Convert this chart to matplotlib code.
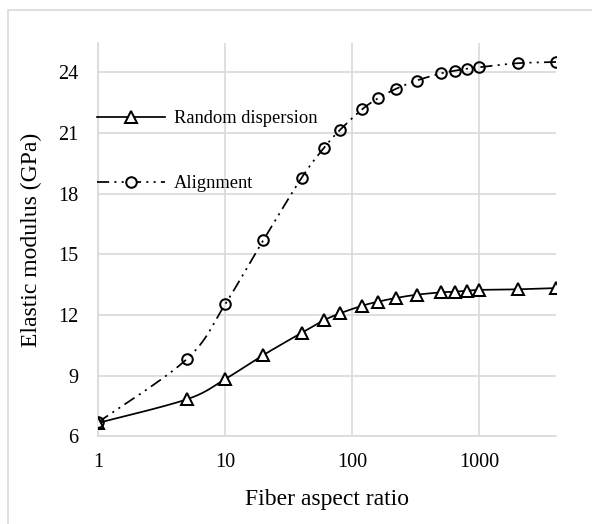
import matplotlib.pyplot as plt
from matplotlib.lines import Line2D
import numpy as np

plt.rcParams['font.family'] = ['Liberation Serif', 'DejaVu Serif']

aspect_ratio = [1, 5, 10, 20, 40, 60, 80, 120, 160, 220, 320, 500, 640, 800, 1000, 2000, 4000]
random_dispersion = [6.66, 7.83, 8.83, 10.02, 11.12, 11.74, 12.08, 12.46, 12.66, 12.84, 13.0,
                     13.12, 13.15, 13.2, 13.24, 13.27, 13.33]
alignment = [6.69, 9.82, 12.53, 15.71, 18.79, 20.27, 21.15, 22.18, 22.72, 23.18, 23.59,
             23.95, 24.08, 24.18, 24.25, 24.45, 24.51]

yticks = [6, 9, 12, 15, 18, 21, 24]
xticks = [1, 10, 100, 1000]
grid_gray = '#d9d9d9'

fig = plt.figure(figsize=(5.92, 5.24), dpi=100)
ax = fig.add_axes([98 / 592, 1 - 436.3 / 524, 458 / 592, (436.3 - 43) / 524])
ax.set_xscale('log')
ax.set_xlim(1, 4000)
ax.set_ylim(6, 25.45)


def smooth(xs, ys, n=24):
    # Bezier smoothing done in display space so curves look the same on the log axis
    pts = ax.transData.transform(np.column_stack([xs, ys]))
    out = [pts[0]]
    for i in range(len(pts) - 1):
        p0 = pts[max(i - 1, 0)]
        p1 = pts[i]
        p2 = pts[i + 1]
        p3 = pts[min(i + 2, len(pts) - 1)]
        c1 = p1 + (p2 - p0) / 6
        c2 = p2 - (p3 - p1) / 6
        t = np.linspace(0, 1, n)[1:, None]
        seg = ((1 - t) ** 3) * p1 + 3 * ((1 - t) ** 2) * t * c1 + 3 * (1 - t) * t ** 2 * c2 + t ** 3 * p2
        out.extend(seg)
    out = ax.transData.inverted().transform(np.array(out))
    return out[:, 0], out[:, 1]


dash_dot_dot = (0, (7, 3, 1.2, 3, 1.2, 3))
line_w = 1.25
mark_w = 1.45

sx, sy = smooth(aspect_ratio, random_dispersion)
ax.plot(sx, sy, color='black', lw=line_w, zorder=3)
ax.plot(aspect_ratio, random_dispersion, ls='none', marker='^', ms=8,
        mfc='white', mec='black', mew=mark_w, zorder=4)

sx, sy = smooth(aspect_ratio, alignment)
ax.plot(sx, sy, color='black', lw=line_w, ls=dash_dot_dot, zorder=3)
ax.plot(aspect_ratio, alignment, ls='none', marker='o', ms=7.6,
        mfc='none', mec='black', mew=mark_w, zorder=4)

ax.set_xticks(xticks)
ax.set_xticklabels([str(v) for v in xticks])
ax.xaxis.set_minor_locator(plt.NullLocator())
ax.set_yticks(yticks)
ax.tick_params(length=0, labelsize=14.6)
ax.tick_params(axis='y', pad=14)
ax.tick_params(axis='x', pad=12)
ax.grid(True, color=grid_gray, lw=1.2)
for side in ['top', 'right']:
    ax.spines[side].set_visible(False)
for side in ['left', 'bottom']:
    ax.spines[side].set_color(grid_gray)
    ax.spines[side].set_linewidth(1.2)

ax.set_xlabel('Fiber aspect ratio', fontsize=17, labelpad=12)
ax.set_ylabel('Elastic modulus (GPa)', fontsize=17, labelpad=12)

handles = [
    Line2D([], [], color='black', lw=line_w, marker='^', ms=8, mfc='white', mec='black', mew=mark_w),
    Line2D([], [], color='black', lw=line_w, ls=dash_dot_dot, marker='o', ms=7.6,
           mfc='white', mec='black', mew=mark_w),
]
ax.legend(handles, ['Random dispersion', 'Alignment'], loc='upper left',
          bbox_to_anchor=(97 / 592, 1 - 110 / 524), bbox_transform=fig.transFigure,
          frameon=False, fontsize=13.3, handlelength=3.7, handletextpad=0.45,
          labelspacing=2.6, borderpad=0, borderaxespad=0, numpoints=1)

# chart area outline
fig.add_artist(Line2D([8 / 592, 8 / 592, 1.0], [0.0, 1 - 10 / 524, 1 - 10 / 524],
                      transform=fig.transFigure, color=grid_gray, lw=1.2))

fig.savefig('out.png', dpi=100)
